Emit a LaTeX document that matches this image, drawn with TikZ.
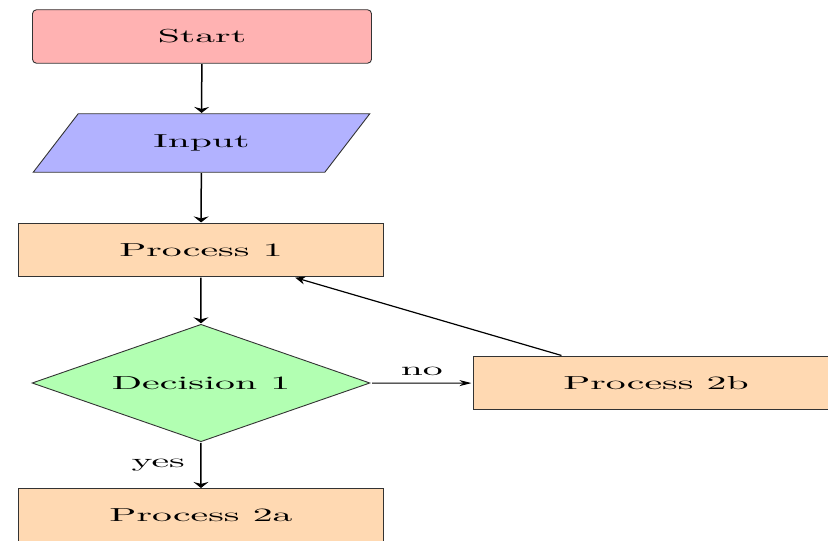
\documentclass[tikz,border=0pt]{standalone}
\usetikzlibrary{shapes.geometric, arrows.meta}
\begin{document}
\begin{tikzpicture}[xscale=3.9715, yscale=1.8803,
  every node/.style={transform shape},
  box/.style={draw=black!80, line width=0.9pt, align=center},
  startstop/.style={box, rectangle, rounded corners=4pt, minimum width=3cm, minimum height=1cm, fill=red!30},
  io/.style={box, trapezium, trapezium left angle=70, trapezium right angle=110, minimum width=3cm, minimum height=1cm, fill=blue!30},
  process/.style={box, rectangle, minimum width=3cm, minimum height=1cm, text width=3cm, fill=orange!30},
  decision/.style={box, diamond, minimum width=3cm, minimum height=2.2cm, inner sep=1pt, fill=green!30},
  downarrow/.style={line width=1.5pt, -{Stealth[length=6pt, width=15pt]}},
  sidearrow/.style={line width=0.9pt, -{Stealth[length=12pt, width=6pt]}},
  backarrow/.style={line width=1.2pt, -{Stealth[length=10pt, width=8pt]}}
]
  \useasboundingbox (0,0) rectangle (7.3274,-10.0935);
  \clip (0,0) rectangle (7.3274,-10.0935);

  % main column of the flowchart
  \node (start) [startstop] at (1.7876,-0.6822) {Start};
  \node (in1)   [io]        at (1.7832,-2.6729) {Input};
  \node (pro1)  [process]   at (1.7788,-4.6729) {Process 1};
  \node (dec1)  [decision]  at (1.7788,-7.1589) {Decision 1};
  \node (pro2a) [process]   at (1.7788,-9.6355) {Process 2a};
  % branch to the right of the decision
  \node (pro2b) [process]   at (5.8053,-7.1589) {Process 2b};

  \draw [downarrow] (start) -- (in1);
  \draw [downarrow] (in1) -- (pro1);
  \draw [downarrow] (pro1) -- (dec1);
  \draw [downarrow] (dec1) -- node[anchor=east] {yes} (pro2a);
  \draw [sidearrow] (dec1) -- node[anchor=south] {no} (pro2b);
  \draw [backarrow] (pro2b) -- (pro1);
\end{tikzpicture}
\end{document}
